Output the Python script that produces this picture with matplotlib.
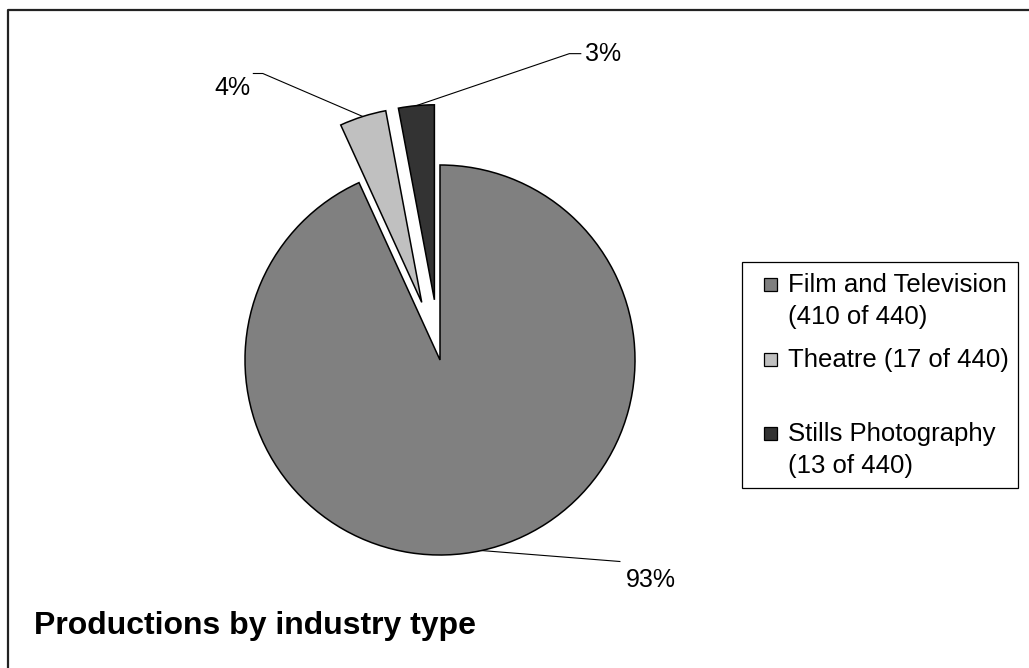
import matplotlib
matplotlib.use("Agg")
import matplotlib.pyplot as plt
import numpy as np
from matplotlib.patches import Rectangle

# ---- data ----
categories = ["Film and Television", "Theatre", "Stills Photography"]
counts = [410, 17, 13]
total = 440
legend_labels = ["Film and Television\n(410 of 440)",
                 "Theatre (17 of 440)",
                 "Stills Photography\n(13 of 440)"]
pct_labels = ["93%", "4%", "3%"]
colors = ["#808080", "#C0C0C0", "#333333"]
explode = [0, 0.31, 0.31]          # fraction of radius
title = "Productions by industry type"

plt.rcParams['font.family'] = ['Liberation Sans', 'DejaVu Sans']
FS = 18
LFS = 18.5

W, H = 1029, 668
fig = plt.figure(figsize=(W / 100, H / 100), dpi=100)
ax = fig.add_axes([0, 0, 1, 1])

cx, cy, R = 440, H - 360, 195
wedges, _ = ax.pie(counts, colors=colors, explode=[e * R for e in explode],
                   startangle=90, counterclock=False, center=(cx, cy),
                   radius=R,
                   wedgeprops=dict(edgecolor='black', linewidth=1.1))
ax.set_xlim(0, W)
ax.set_ylim(0, H)
ax.set_aspect('equal')
ax.axis('off')

# ---- percentage labels with leader lines ----
# (elbow offset, end offset, text offset, ha) in pixels, y up
leader_layout = [
    ((139, -11), (0, 0), (5, -18), 'left'),
    ((-100, 43), (-10, 0), (-2, -15), 'right'),
    ((153, 52), (12, 0), (4, 0), 'left'),
]
for w, lab, (elb, end, toff, ha) in zip(wedges, pct_labels, leader_layout):
    mid = np.deg2rad((w.theta1 + w.theta2) / 2)
    ax0 = w.center[0] + w.r * np.cos(mid)
    ay0 = w.center[1] + w.r * np.sin(mid)
    ex, ey = ax0 + elb[0], ay0 + elb[1]
    fx, fy = ex + end[0], ey + end[1]
    ax.plot([ax0, ex, fx], [ay0, ey, fy], color='black', lw=0.8,
            solid_capstyle='butt')
    ax.text(fx + toff[0], fy + toff[1], lab, ha=ha, va='center',
            fontsize=FS, color='black')

# ---- legend (drawn manually to match layout) ----
ax.add_patch(Rectangle((742, H - 488), 276, 226, fill=False,
                       edgecolor='black', lw=0.9, clip_on=False))
baselines = [292, 367, 441]
line_step = 32
for lab, col, b in zip(legend_labels, colors, baselines):
    ax.add_patch(Rectangle((764, H - b + 1), 13, 13, facecolor=col,
                           edgecolor='black', lw=0.9))
    for i, line in enumerate(lab.split("\n")):
        ax.text(788, H - b - i * line_step, line, ha='left', va='baseline',
                fontsize=LFS, color='black')

# ---- title ----
ax.text(34, H - 634, title, ha='left', va='baseline', fontsize=23,
        fontweight='bold', color='black')

# ---- outer frame (partially visible) ----
ax.plot([8, 8, W + 5], [-5, H - 10, H - 10], color='#222222', lw=1.6,
        clip_on=False)

fig.savefig("out.png", dpi=100)
